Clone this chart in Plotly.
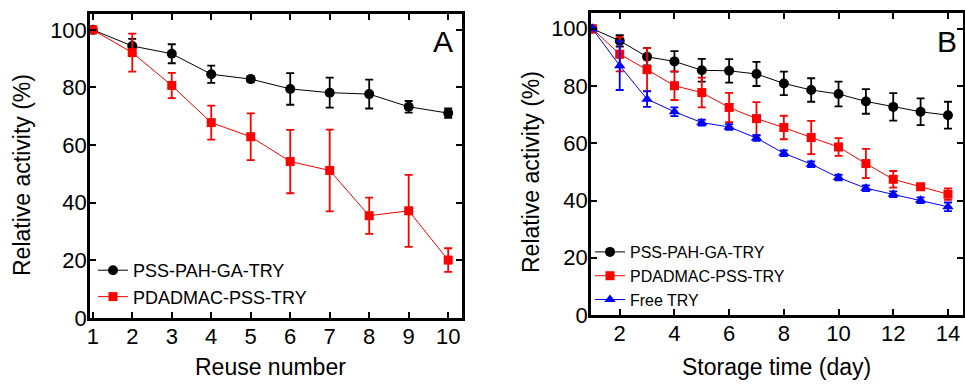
import plotly.graph_objects as go

W, H = 965, 385

# Panel A data
reuse = [1, 2, 3, 4, 5, 6, 7, 8, 9, 10]
a_pss = [100, 94.4, 91.7, 84.6, 82.9, 79.5, 78.2, 77.7, 73.3, 71.1]
a_pss_err = [0.8, 2.5, 3.3, 3.0, 1.0, 5.5, 5.2, 5.0, 2.0, 1.6]
a_pda = [100, 92.1, 80.7, 67.8, 62.9, 54.3, 51.2, 35.5, 37.2, 20.1]
a_pda_err = [0.5, 6.6, 4.4, 5.9, 8.1, 11.0, 14.2, 6.3, 12.5, 4.1]

# Panel B data
days = [1, 2, 3, 4, 5, 6, 7, 8, 9, 10, 11, 12, 13, 14]
b_pss = [100, 95.8, 90.2, 88.6, 85.5, 85.3, 84.2, 80.9, 78.6, 77.2, 74.6, 72.7, 71.0, 69.8]
b_pss_err = [0.5, 2.0, 3.0, 3.6, 4.0, 4.1, 4.2, 4.1, 4.1, 4.3, 4.3, 4.8, 4.7, 4.7]
b_pda = [100, 91.1, 85.7, 80.1, 77.7, 72.5, 68.6, 65.5, 62.0, 58.7, 52.9, 47.4, 44.8, 42.2]
b_pda_err = [0.5, 6.0, 7.5, 5.0, 5.2, 5.1, 5.8, 4.1, 5.8, 3.1, 5.1, 2.9, 1.0, 2.0]
b_free = [100, 87.1, 75.4, 71.0, 67.2, 65.7, 61.8, 56.5, 52.7, 48.0, 44.3, 42.2, 40.1, 37.8]
b_free_err = [0.5, 8.5, 2.7, 1.5, 1.0, 1.0, 1.0, 1.0, 1.0, 1.0, 1.0, 1.0, 1.0, 1.5]

names = ["PSS-PAH-GA-TRY", "PDADMAC-PSS-TRY", "Free TRY"]
FONT = "Liberation Sans, Arial, sans-serif"

def px(x):
    return x / W

def py(y):
    return 1 - y / H

fig = go.Figure()

def add(x, y, err, name, color, symbol, size, xa, ya, legend):
    fig.add_trace(go.Scatter(
        x=x, y=y, name=name, mode="lines+markers",
        line=dict(color=color, width=1),
        marker=dict(color=color, symbol=symbol, size=size),
        error_y=dict(type="data", array=err, visible=True, color=color, thickness=1.8, width=4),
        xaxis=xa, yaxis=ya, legend=legend,
    ))

add(reuse, a_pss, a_pss_err, names[0], "#000000", "circle", 10, "x", "y", "legend")
add(reuse, a_pda, a_pda_err, names[1], "#ff0000", "square", 9, "x", "y", "legend")
add(days, b_pss, b_pss_err, names[0], "#000000", "circle", 10, "x2", "y2", "legend2")
add(days, b_pda, b_pda_err, names[1], "#ff0000", "square", 9, "x2", "y2", "legend2")
add(days, b_free, b_free_err, names[2], "#0000ff", "triangle-up", 10, "x2", "y2", "legend2")

axis_common = dict(
    showline=True, linecolor="black", linewidth=2.5, mirror="allticks",
    ticks="inside", ticklen=6, tickwidth=2, tickcolor="black",
    showgrid=False, zeroline=False, automargin=False,
    tickfont=dict(family=FONT, size=22, color="black"),
)

fig.update_layout(
    width=W, height=H, autosize=False,
    margin=dict(l=0, r=0, t=0, b=0, pad=0),
    paper_bgcolor="white", plot_bgcolor="white",
    showlegend=True,
    xaxis=dict(domain=[px(90), px(462)], range=[0.93, 10.35], tickmode="array",
               tickvals=reuse, anchor="y", ticklabelstandoff=-3, **axis_common),
    yaxis=dict(domain=[py(318), py(14)], range=[0, 105.5], tickvals=[0, 20, 40, 60, 80, 100],
               anchor="x", ticklabelstandoff=-4, **axis_common),
    xaxis2=dict(domain=[px(591), px(963)], range=[0.95, 14.55], tickvals=[2, 4, 6, 8, 10, 12, 14],
                anchor="y2", ticklabelstandoff=-3, **axis_common),
    yaxis2=dict(domain=[py(315), py(13)], range=[0, 105.5], tickvals=[0, 20, 40, 60, 80, 100],
                anchor="x2", ticklabelstandoff=-4, **axis_common),
    legend=dict(x=px(93), y=py(252), xanchor="left", yanchor="top",
                bgcolor="rgba(0,0,0,0)", font=dict(family=FONT, size=18, color="black"),
                tracegroupgap=0, itemwidth=30),
    legend2=dict(x=px(590), y=py(235), xanchor="left", yanchor="top",
                 bgcolor="rgba(0,0,0,0)", font=dict(family=FONT, size=16, color="black"),
                 tracegroupgap=0, itemwidth=30),
)

annotations = [
    dict(text="A", x=px(443), y=py(41), font=dict(size=30)),
    dict(text="B", x=px(947), y=py(41), font=dict(size=30)),
    dict(text="Reuse number", x=px(270), y=py(367), font=dict(size=23)),
    dict(text="Storage time (day)", x=px(776), y=py(367), font=dict(size=23)),
    dict(text="Relative activity (%)", x=px(22), y=py(175), font=dict(size=23), textangle=-90),
    dict(text="Relative activity (%)", x=px(531), y=py(172), font=dict(size=23), textangle=-90),
]
for a in annotations:
    a.update(xref="paper", yref="paper", showarrow=False, xanchor="center", yanchor="middle")
    a["font"].update(family=FONT, color="black")
fig.update_layout(annotations=annotations)

fig.write_html("out.html")
